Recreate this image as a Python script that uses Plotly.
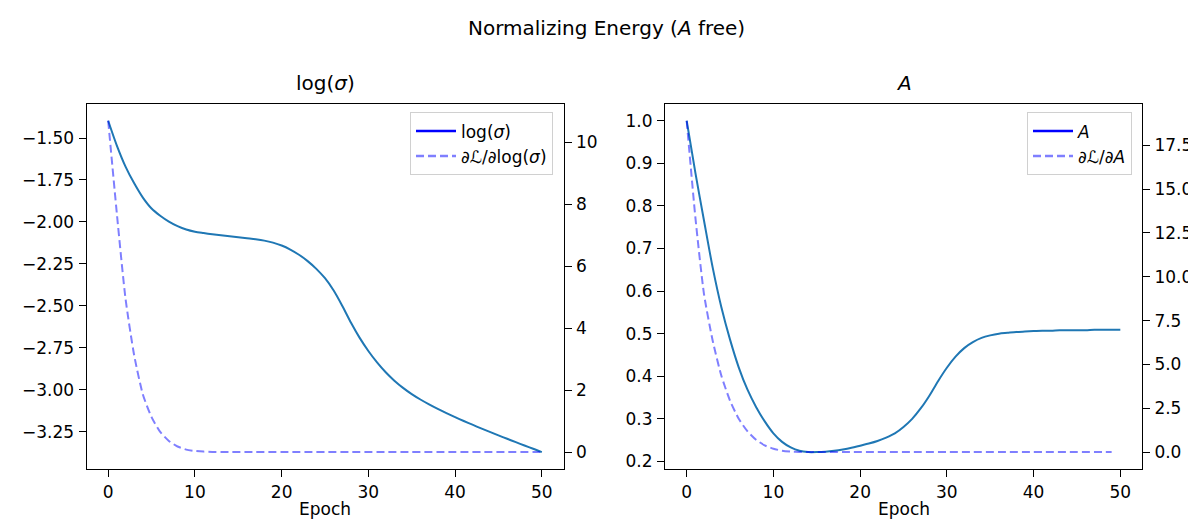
import plotly.graph_objects as go

# ---------------- data ----------------
epochs = list(range(51))
epochs_grad_A = list(range(50))

log_sigma = [-1.397, -1.545, -1.670, -1.770, -1.855, -1.920, -1.963, -1.998, -2.025, -2.045,
             -2.058, -2.066, -2.073, -2.079, -2.085, -2.091, -2.097, -2.103, -2.111, -2.123,
             -2.140, -2.164, -2.195, -2.233, -2.279, -2.335, -2.408, -2.500, -2.600, -2.690,
             -2.768, -2.836, -2.895, -2.945, -2.988, -3.025, -3.057, -3.086, -3.113, -3.138,
             -3.162, -3.185, -3.207, -3.229, -3.250, -3.271, -3.291, -3.311, -3.331, -3.350,
             -3.370]

grad_log_sigma = [10.70, 7.70, 4.95, 3.12, 1.86, 1.13, 0.65, 0.36, 0.18, 0.08,
                  0.035, 0.015, 0.006, 0.003, 0.001, 0.0, 0.0, 0.0, 0.0, 0.0,
                  0.0, 0.0, 0.0, 0.0, 0.0, 0.0, 0.0, 0.0, 0.0, 0.0,
                  0.0, 0.0, 0.0, 0.0, 0.0, 0.0, 0.0, 0.0, 0.0, 0.0,
                  0.0, 0.0, 0.0, 0.0, 0.0, 0.0, 0.0, 0.0, 0.0, 0.0,
                  0.0]

A_values = [1.000, 0.878, 0.765, 0.655, 0.562, 0.486, 0.421, 0.369, 0.328, 0.294,
            0.266, 0.246, 0.233, 0.225, 0.222, 0.222, 0.223, 0.225, 0.228, 0.232,
            0.237, 0.242, 0.248, 0.256, 0.266, 0.281, 0.300, 0.325, 0.355, 0.389,
            0.420, 0.446, 0.466, 0.480, 0.490, 0.496, 0.500, 0.502, 0.504, 0.505,
            0.506, 0.507, 0.507, 0.508, 0.508, 0.508, 0.508, 0.509, 0.509, 0.509,
            0.509]

grad_A = [18.90, 13.40, 9.00, 6.35, 4.35, 2.93, 1.90, 1.19, 0.70, 0.38,
          0.19, 0.08, 0.03, 0.01, 0.0, 0.0, 0.0, 0.0, 0.0, 0.0,
          0.0, 0.0, 0.0, 0.0, 0.0, 0.0, 0.0, 0.0, 0.0, 0.0,
          0.0, 0.0, 0.0, 0.0, 0.0, 0.0, 0.0, 0.0, 0.0, 0.0,
          0.0, 0.0, 0.0, 0.0, 0.0, 0.0, 0.0, 0.0, 0.0, 0.0]

suptitle = "Normalizing Energy (<i>A</i> free)"
titles = ["log(<i>σ</i>)", "<i>A</i>"]
legend_left = ["log(<i>σ</i>)", "∂ℒ/∂log(<i>σ</i>)"]
legend_right = ["<i>A</i>", "∂ℒ/∂<i>A</i>"]
xlabel = "Epoch"

# ---------------- style ----------------
W, H = 1196, 522
FONT = "DejaVu Sans"
FS = 17
C_SOLID = "#1f77b4"
C_DASH = "rgba(0,0,255,0.5)"
C_LEG = "#0000ff"
DASH = "8px,4px"

left_dom = [78.5 / W, 555.5 / W]
right_dom = [657 / W, 1134 / W]
y_dom = [1 - 463.3 / H, 1 - 96.7 / H]

fig = go.Figure()

solid = dict(color=C_SOLID, width=2, shape="spline", smoothing=0.8)
dashed = dict(color=C_DASH, width=2, dash=DASH, shape="spline", smoothing=0.6)

# main traces
fig.add_trace(go.Scatter(x=epochs, y=log_sigma, mode="lines", xaxis="x", yaxis="y",
                         line=solid, showlegend=False))
fig.add_trace(go.Scatter(x=epochs, y=grad_log_sigma, mode="lines", xaxis="x", yaxis="y2",
                         line=dashed, showlegend=False))
fig.add_trace(go.Scatter(x=epochs, y=A_values, mode="lines", xaxis="x2", yaxis="y3",
                         line=solid, showlegend=False))
fig.add_trace(go.Scatter(x=epochs_grad_A, y=grad_A, mode="lines", xaxis="x2", yaxis="y4",
                         line=dashed, showlegend=False))

# legend entries
fig.add_trace(go.Scatter(x=[None], y=[None], mode="lines", xaxis="x", yaxis="y",
                         name=legend_left[0], line=dict(color=C_LEG, width=2.5), legend="legend"))
fig.add_trace(go.Scatter(x=[None], y=[None], mode="lines", xaxis="x", yaxis="y",
                         name=legend_left[1], line=dict(color=C_DASH, width=2.5, dash=DASH), legend="legend"))
fig.add_trace(go.Scatter(x=[None], y=[None], mode="lines", xaxis="x2", yaxis="y3",
                         name=legend_right[0], line=dict(color=C_LEG, width=2.5), legend="legend2"))
fig.add_trace(go.Scatter(x=[None], y=[None], mode="lines", xaxis="x2", yaxis="y3",
                         name=legend_right[1], line=dict(color=C_DASH, width=2.5, dash=DASH), legend="legend2"))


def rng(vals):
    lo, hi = min(vals), max(vals)
    pad = 0.05 * (hi - lo)
    return [lo - pad, hi + pad]


axis_common = dict(showline=True, linecolor="black", linewidth=1, ticks="outside", ticklen=7,
                   tickwidth=1, tickcolor="black", showgrid=False, zeroline=False,
                   ticklabelstandoff=1,
                   tickfont=dict(family=FONT, size=FS, color="black"))

xr = rng(epochs)
fig.update_layout(
    xaxis=dict(domain=left_dom, anchor="y", range=xr, tick0=0, dtick=10, mirror=True, **axis_common),
    xaxis2=dict(domain=right_dom, anchor="y3", range=xr, tick0=0, dtick=10, mirror=True, **axis_common),
    yaxis=dict(domain=y_dom, anchor="x", range=rng(log_sigma), tick0=-1.5, dtick=0.25,
               tickformat=".2f", mirror=True, **axis_common),
    yaxis2=dict(anchor="x", overlaying="y", side="right", range=rng(grad_log_sigma),
                tick0=0, dtick=2, tickformat="d", **axis_common),
    yaxis3=dict(domain=y_dom, anchor="x2", range=rng(A_values), tick0=0.2, dtick=0.1,
                tickformat=".1f", mirror=True, **axis_common),
    yaxis4=dict(anchor="x2", overlaying="y3", side="right", range=rng(grad_A),
                tick0=0, dtick=2.5, tickformat=".1f", **axis_common),
)

leg_common = dict(bgcolor="rgba(255,255,255,0.8)", bordercolor="#d0d0d0", borderwidth=1,
                  font=dict(family=FONT, size=FS, color="black"), xanchor="right",
                  yanchor="top", itemwidth=40, tracegroupgap=0)
fig.update_layout(
    legend=dict(x=545 / W, y=1 - 105 / H, **leg_common),
    legend2=dict(x=1124 / W, y=1 - 105 / H, **leg_common),
)

annotations = [
    dict(text=suptitle, x=0.5, y=1 - 20 / H, xref="paper", yref="paper", showarrow=False,
         xanchor="center", yanchor="middle", font=dict(family=FONT, size=20, color="black")),
    dict(text=titles[0], x=sum(left_dom) / 2, y=1 - 75 / H, xref="paper", yref="paper",
         showarrow=False, xanchor="center", yanchor="middle",
         font=dict(family=FONT, size=20, color="black")),
    dict(text=titles[1], x=sum(right_dom) / 2, y=1 - 75 / H, xref="paper", yref="paper",
         showarrow=False, xanchor="center", yanchor="middle",
         font=dict(family=FONT, size=20, color="black")),
    dict(text=xlabel, x=sum(left_dom) / 2, y=1 - 504 / H, xref="paper", yref="paper",
         showarrow=False, xanchor="center", yanchor="middle",
         font=dict(family=FONT, size=FS, color="black")),
    dict(text=xlabel, x=sum(right_dom) / 2, y=1 - 504 / H, xref="paper", yref="paper",
         showarrow=False, xanchor="center", yanchor="middle",
         font=dict(family=FONT, size=FS, color="black")),
]

fig.update_layout(
    width=W, height=H, autosize=False,
    margin=dict(l=0, r=0, t=0, b=0),
    paper_bgcolor="white", plot_bgcolor="white",
    font=dict(family=FONT, size=FS, color="black"),
    annotations=annotations,
)

fig.write_html("out.html")
